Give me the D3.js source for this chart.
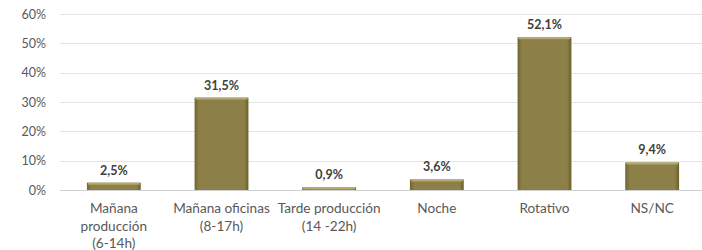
<!DOCTYPE html>
<html>
<head>
<meta charset="utf-8">
<script src="https://cdn.jsdelivr.net/npm/d3@7"></script>
<style>
  body { margin: 0; background: #fff; }
  svg text { font-family: Lato, "Open Sans", sans-serif; }
</style>
</head>
<body>
<div id="chart"></div>
<script>
// turnos de trabajo
var categories = [
    ['Mañana', 'producción', '(6-14h)'],
    ['Mañana oficinas', '(8-17h)'],
    ['Tarde producción', '(14 -22h)'],
    ['Noche'],
    ['Rotativo'],
    ['NS/NC']
];
var values = [2.5, 31.5, 0.9, 3.6, 52.1, 9.4];
var yTicks = [0, 10, 20, 30, 40, 50, 60];

var width = 702, height = 250;
var margin = { top: 14, right: -4, bottom: 60, left: 60 };

var svg = d3.select('#chart')
            .append('svg')
            .attr('width', width)
            .attr('height', height);

var defs = svg.append('defs');
var grad = defs.append('linearGradient')
    .attr('id', 'barGrad')
    .attr('x1', 0).attr('x2', 1).attr('y1', 0).attr('y2', 0);
grad.append('stop').attr('offset', '0%').attr('stop-color', '#6f6530');
grad.append('stop').attr('offset', '8%').attr('stop-color', '#8c8048');
grad.append('stop').attr('offset', '92%').attr('stop-color', '#8c8048');
grad.append('stop').attr('offset', '100%').attr('stop-color', '#6a602c');

var x = d3.scaleBand()
    .domain(d3.range(values.length))
    .range([margin.left, width - margin.right])
    .paddingInner(0.5)
    .paddingOuter(0.25);

var y = d3.scaleLinear()
    .domain([0, 60])
    .range([height - margin.bottom, margin.top]);

// gridlines
svg.append('g')
    .selectAll('line')
    .data(yTicks)
    .enter()
    .append('line')
    .attr('x1', margin.left)
    .attr('x2', width)
    .attr('y1', d => Math.round(y(d)) + 0.5)
    .attr('y2', d => Math.round(y(d)) + 0.5)
    .style('stroke', d => d === 0 ? '#d0d0d0' : '#e4e4e4')
    .style('stroke-width', 1.2);

// y axis labels
var yAxis = d3.axisLeft(y)
    .tickValues(yTicks)
    .tickSize(0)
    .tickPadding(0)
    .tickFormat(d => d + '%');

svg.append('g')
    .attr('transform', 'translate(46,0)')
    .call(yAxis)
    .call(g => g.select('.domain').remove())
    .selectAll('text')
    .style('font-size', '12.5px')
    .style('fill', '#595959');

// bars
var bars = svg.append('g')
    .selectAll('g')
    .data(values)
    .enter()
    .append('g');

bars.append('rect')
    .attr('x', (d, i) => x(i))
    .attr('y', d => y(d))
    .attr('width', x.bandwidth())
    .attr('height', d => y(0) - y(d))
    .style('fill', 'url(#barGrad)');

// top highlight
bars.append('rect')
    .attr('x', (d, i) => x(i) + 1)
    .attr('y', d => y(d))
    .attr('width', x.bandwidth() - 2)
    .attr('height', d => Math.min(2, y(0) - y(d)))
    .style('fill', '#b5aa72');

// value labels
bars.append('text')
    .attr('x', (d, i) => x(i) + x.bandwidth() / 2)
    .attr('y', d => y(d) - 8)
    .attr('text-anchor', 'middle')
    .style('font-size', '12.5px')
    .style('font-weight', 'bold')
    .style('fill', '#404040')
    .text(d => d3.format('.1f')(d).replace('.', ',') + '%');

// category labels
var cat = svg.append('g')
    .selectAll('text')
    .data(categories)
    .enter()
    .append('text')
    .attr('text-anchor', 'middle')
    .style('font-size', '13.6px')
    .style('fill', '#595959');

cat.selectAll('tspan')
    .data((d, i) => d.map(s => ({ s: s, i: i })))
    .enter()
    .append('tspan')
    .attr('x', d => x(d.i) + x.bandwidth() / 2)
    .attr('y', (d, j) => 213 + j * 17.5)
    .text(d => d.s);
</script>
</body>
</html>
